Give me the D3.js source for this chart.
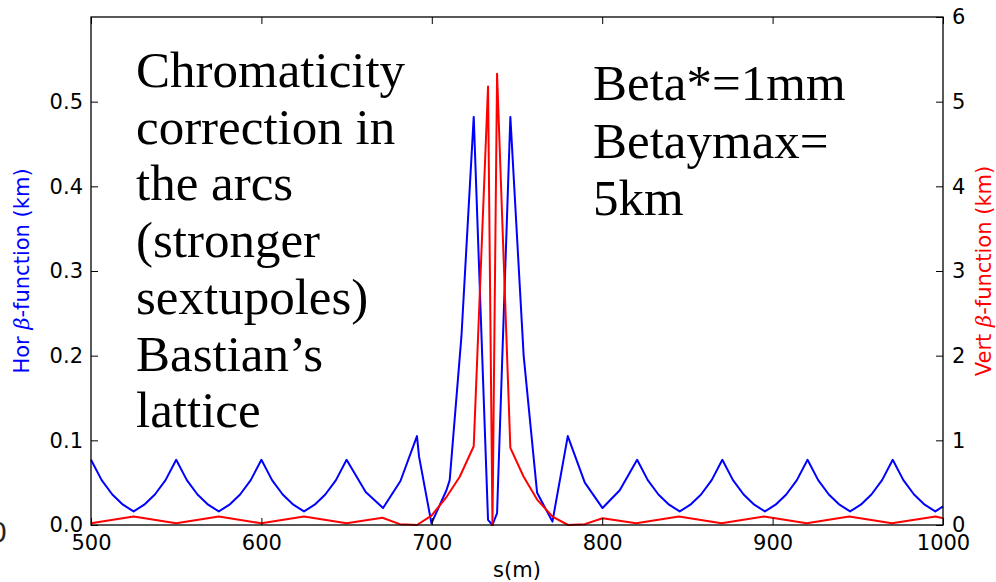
<!DOCTYPE html>
<html>
<head>
<meta charset="utf-8">
<script src="https://cdn.jsdelivr.net/npm/d3@7"></script>
<style>
  body { margin: 0; background: #fff; }
  svg { display: block; }
</style>
</head>
<body>
<svg id="chart" width="996" height="582"></svg>
<script>
// Horizontal beta function along s (m), in km
const horS = [500, 506.25, 512.5, 518.75, 525, 531.25, 537.5, 543.75,
  550, 556.25, 562.5, 568.75, 575, 581.25, 587.5, 593.75,
  600, 606.25, 612.5, 618.75, 625, 631.25, 637.5, 643.75,
  650, 661.2, 671.4, 681.6, 691.3, 692.5, 699.8, 708.6, 710.5, 717.4, 724.6,
  733, 735.6, 738.3, 746.1, 753.9, 761.8, 770.8, 779.8, 789.8, 800.2, 810.3,
  820.5, 826.75, 833, 839.25, 845.5, 851.75, 858, 864.25,
  870.5, 876.75, 883, 889.25, 895.5, 901.75, 908, 914.25,
  920.5, 926.75, 933, 939.25, 945.5, 951.75, 958, 964.25,
  970.5, 976.75, 983, 989.25, 995.5, 1000];
const horBeta = [0.077, 0.053, 0.036, 0.024, 0.016, 0.024, 0.036, 0.053,
  0.077, 0.053, 0.036, 0.024, 0.016, 0.024, 0.036, 0.053,
  0.077, 0.053, 0.036, 0.024, 0.016, 0.024, 0.036, 0.053,
  0.077, 0.039, 0.020, 0.052, 0.105, 0.081, 0.002, 0.041, 0.053, 0.223, 0.482,
  0.006, 0.000, 0.014, 0.482, 0.200, 0.038, 0.004, 0.105, 0.050, 0.020, 0.041,
  0.077, 0.053, 0.036, 0.024, 0.016, 0.024, 0.036, 0.053,
  0.077, 0.053, 0.036, 0.024, 0.016, 0.024, 0.036, 0.053,
  0.077, 0.053, 0.036, 0.024, 0.016, 0.024, 0.036, 0.053,
  0.077, 0.053, 0.036, 0.024, 0.016, 0.022];

// Vertical beta function along s (m), in km
const vertS = [500, 525, 550, 575, 600, 625, 650, 671, 681.2, 691.3, 699.8,
  708.6, 716.4, 724.6, 733, 735.6, 738.3, 746.1, 753.9, 761.8, 770.8, 780,
  789.8, 800.2, 820, 845, 870, 895, 920, 945, 970, 995.7, 1000];
const vertBeta = [0.02, 0.10, 0.02, 0.10, 0.02, 0.10, 0.02, 0.085, 0.01, 0.0, 0.11,
  0.33, 0.57, 0.93, 5.18, 0.0, 5.33, 0.91, 0.57, 0.30, 0.10, 0.0,
  0.01, 0.08, 0.02, 0.10, 0.02, 0.10, 0.02, 0.10, 0.02, 0.10, 0.08];

const sTicks = [500, 600, 700, 800, 900, 1000];
const horTicks = [0.0, 0.1, 0.2, 0.3, 0.4, 0.5];
const vertTicks = [0, 1, 2, 3, 4, 5, 6];

const noteLeft = ["Chromaticity", "correction in", "the arcs", "(stronger",
  "sextupoles)", "Bastian\u2019s", "lattice"];
const noteRight = ["Beta*=1mm", "Betaymax=", "5km"];

const svg = d3.select("#chart");
const plot = { left: 91, right: 943, top: 17, bottom: 525 };

const x = d3.scaleLinear().domain([500, 1000]).range([plot.left, plot.right]);
const yHor = d3.scaleLinear().domain([0, 0.6]).range([plot.bottom, plot.top]);
const yVert = d3.scaleLinear().domain([0, 6]).range([plot.bottom, plot.top]);

const tickFont = "'DejaVu Sans', sans-serif";
const tickLen = 7;

// stray digit at the far left edge
svg.append("text")
  .attr("x", -10).attr("y", 542)
  .attr("font-family", tickFont).attr("font-size", 27)
  .attr("fill", "#2a2418")
  .text("0");

// curves
const horLine = d3.line().x(d => x(d[0])).y(d => yHor(d[1]));
const vertLine = d3.line().x(d => x(d[0])).y(d => yVert(d[1]));

svg.append("path")
  .datum(horS.map((s, i) => [s, horBeta[i]]))
  .attr("d", horLine)
  .attr("fill", "none").attr("stroke", "#0000ff")
  .attr("stroke-width", 2).attr("stroke-linejoin", "round");

svg.append("path")
  .datum(vertS.map((s, i) => [s, vertBeta[i]]))
  .attr("d", vertLine)
  .attr("fill", "none").attr("stroke", "#ff0000")
  .attr("stroke-width", 2).attr("stroke-linejoin", "round");

// axes with inward ticks
function styleAxis(g) {
  g.select(".domain").remove();
  g.selectAll(".tick line").attr("stroke", "#000").attr("stroke-width", 1);
  g.selectAll(".tick text").attr("font-family", tickFont).attr("font-size", 21).attr("fill", "#000");
}

const fmtHor = d3.format(".1f");

svg.append("g")
  .attr("transform", `translate(0,${plot.bottom})`)
  .call(d3.axisBottom(x).tickValues(sTicks).tickSizeInner(-tickLen).tickPadding(10).tickFormat(d3.format("d")))
  .call(styleAxis);

svg.append("g")
  .attr("transform", `translate(0,${plot.top})`)
  .call(d3.axisTop(x).tickValues(sTicks).tickSizeInner(-tickLen).tickFormat(""))
  .call(styleAxis);

svg.append("g")
  .attr("transform", `translate(${plot.left},0)`)
  .call(d3.axisLeft(yHor).tickValues(horTicks).tickSizeInner(-tickLen).tickPadding(8).tickFormat(fmtHor))
  .call(styleAxis);

svg.append("g")
  .attr("transform", `translate(${plot.right},0)`)
  .call(d3.axisRight(yVert).tickValues(vertTicks).tickSizeInner(-tickLen).tickPadding(9).tickFormat(d3.format("d")))
  .call(styleAxis);

// frame
svg.append("rect")
  .attr("x", plot.left).attr("y", plot.top)
  .attr("width", plot.right - plot.left).attr("height", plot.bottom - plot.top)
  .attr("fill", "none").attr("stroke", "#000").attr("stroke-width", 1.3);

// axis titles
const midY = (plot.top + plot.bottom) / 2;
const titleSize = 21;

svg.append("text")
  .attr("x", (plot.left + plot.right) / 2).attr("y", 577)
  .attr("text-anchor", "middle")
  .attr("font-family", tickFont).attr("font-size", titleSize)
  .text("s(m)");

const horTitle = svg.append("text")
  .attr("transform", `translate(29,${midY}) rotate(-90)`)
  .attr("text-anchor", "middle")
  .attr("font-family", tickFont).attr("font-size", titleSize)
  .attr("fill", "#0000ff");
horTitle.append("tspan").text("Hor ");
horTitle.append("tspan").attr("font-family", "'DejaVu Serif', serif").attr("font-style", "italic").text("\u03b2");
horTitle.append("tspan").text("-function (km)");

const vertTitle = svg.append("text")
  .attr("transform", `translate(991,${midY}) rotate(-90)`)
  .attr("text-anchor", "middle")
  .attr("font-family", tickFont).attr("font-size", titleSize)
  .attr("fill", "#ff0000");
vertTitle.append("tspan").text("Vert ");
vertTitle.append("tspan").attr("font-family", "'DejaVu Serif', serif").attr("font-style", "italic").text("\u03b2");
vertTitle.append("tspan").text("-function (km)");

// annotations
const noteFont = "'Liberation Serif', 'Times New Roman', serif";

svg.append("g")
  .selectAll("text")
  .data(noteLeft)
  .join("text")
  .attr("x", 136)
  .attr("y", (d, i) => 87 + i * 56.7)
  .attr("font-family", noteFont).attr("font-size", 51)
  .attr("fill", "#000")
  .text(d => d);

svg.append("g")
  .selectAll("text")
  .data(noteRight)
  .join("text")
  .attr("x", 593)
  .attr("y", (d, i) => 100 + i * 57.5)
  .attr("font-family", noteFont).attr("font-size", 51)
  .attr("fill", "#000")
  .text(d => d);
</script>
</body>
</html>
